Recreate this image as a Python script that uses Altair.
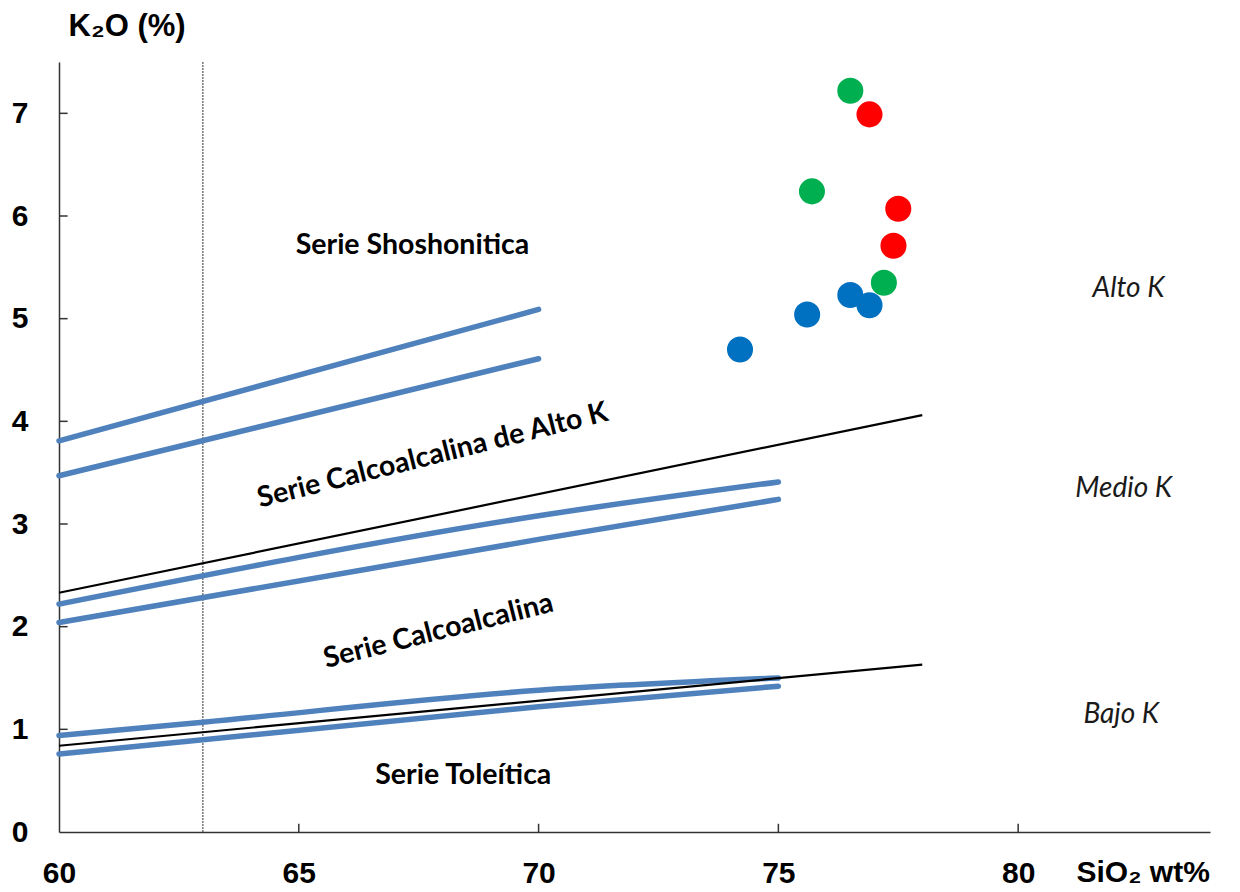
import altair as alt
import pandas as pd

# ---- data ----
# boundary lines (blue, thick)
line1_x = [60, 70];        line1_y = [3.81, 5.09]
line2_x = [60, 70];        line2_y = [3.47, 4.61]
line3_x = [60, 70, 75];    line3_y = [2.22, 3.08, 3.41]
line4_x = [60, 70, 75];    line4_y = [2.04, 2.85, 3.24]
line5_x = [60, 63, 70, 75]; line5_y = [0.94, 1.07, 1.38, 1.50]
line6_x = [60, 70, 75];    line6_y = [0.76, 1.22, 1.42]
# boundary lines (black, thin)
blackA_x = [60, 78];       blackA_y = [2.33, 4.06]
blackB_x = [60, 78];       blackB_y = [0.84, 1.63]
# vertical dotted line
vline_x = [63]

# samples
blue_x = [74.2, 75.6, 76.5, 76.9]
blue_y = [4.70, 5.04, 5.23, 5.13]
green_x = [76.5, 75.7, 77.2]
green_y = [7.22, 6.24, 5.35]
red_x = [76.9, 77.5, 77.4]
red_y = [6.99, 6.07, 5.71]

# field labels
series_labels = ["Serie Shoshonitica", "Serie Toleítica"]
series_x = [67.37, 68.43]
series_y = [5.72, 0.56]
rot_labels = ["Serie Calcoalcalina de Alto K", "Serie Calcoalcalina"]
rot_x = [67.79, 67.91]
rot_y = [3.67, 1.96]
k_labels = ["Alto K", "Medio K", "Bajo K"]
k_x = [82.3, 82.2, 82.15]
k_y = [5.29, 3.34, 1.14]

x_ticks = [60, 65, 70, 75, 80]
y_ticks = [0, 1, 2, 3, 4, 5, 6, 7]
inner_x_ticks = [65, 70, 75, 80]
inner_y_ticks = [1, 2, 3, 4, 5, 6, 7]

X_DOMAIN = [60, 84]
Y_DOMAIN = [0, 7.5]

# ---- tables ----
def lines_df(specs):
    rows = []
    for name, xs, ys in specs:
        for i, (a, b) in enumerate(zip(xs, ys)):
            rows.append({"line": name, "ord": i, "x": a, "y": b})
    return pd.DataFrame(rows)

blue_df = lines_df([("l1", line1_x, line1_y), ("l2", line2_x, line2_y),
                    ("l3", line3_x, line3_y), ("l4", line4_x, line4_y),
                    ("l5", line5_x, line5_y), ("l6", line6_x, line6_y)])
black_df = lines_df([("a", blackA_x, blackA_y), ("b", blackB_x, blackB_y)])

pts_df = pd.DataFrame(
    [{"x": a, "y": b, "grp": "azul"} for a, b in zip(blue_x, blue_y)]
    + [{"x": a, "y": b, "grp": "verde"} for a, b in zip(green_x, green_y)]
    + [{"x": a, "y": b, "grp": "rojo"} for a, b in zip(red_x, red_y)]
)

vline_df = pd.DataFrame({"x": vline_x, "y": [Y_DOMAIN[0]], "y2": [Y_DOMAIN[1]]})

xt_df = pd.DataFrame({"x": inner_x_ticks, "y": [0.0] * len(inner_x_ticks),
                      "y2": [0.08] * len(inner_x_ticks)})
yt_df = pd.DataFrame({"y": inner_y_ticks, "x": [60.0] * len(inner_y_ticks),
                      "x2": [60.18] * len(inner_y_ticks)})

ser_df = pd.DataFrame({"x": series_x, "y": series_y, "t": series_labels})
rot_df = pd.DataFrame({"x": rot_x, "y": rot_y, "t": rot_labels})
k_df = pd.DataFrame({"x": k_x, "y": k_y, "t": k_labels})

# ---- axes ----
x_axis = alt.Axis(values=x_ticks, grid=False, ticks=False, labelPadding=26,
                  labelFlush=False,
                  labelFont="Liberation Sans", labelFontWeight="bold",
                  labelFontSize=30, labelColor="black",
                  domainColor="#333333", domainWidth=1.5,
                  title="SiO₂  wt%", titleFont="Liberation Sans",
                  titleFontWeight="bold", titleFontSize=30, titleColor="black",
                  titleAlign="left", titleBaseline="alphabetic", titleAnchor="start",
                  titleX=1017, titleY=49)
y_axis = alt.Axis(values=y_ticks, grid=False, ticks=False, labelPadding=31,
                  labelFlush=False,
                  labelFont="Liberation Sans", labelFontWeight="bold",
                  labelFontSize=30, labelColor="black",
                  domainColor="#333333", domainWidth=1.5,
                  title="K₂O (%)", titleFont="Liberation Sans",
                  titleFontWeight="bold", titleFontSize=31, titleColor="black",
                  titleAngle=0, titleAlign="left", titleBaseline="alphabetic",
                  titleAnchor="start", titleX=9, titleY=-27)

X = alt.X("x:Q", scale=alt.Scale(domain=X_DOMAIN, nice=False, zero=False), axis=x_axis)
Y = alt.Y("y:Q", scale=alt.Scale(domain=Y_DOMAIN, nice=False), axis=y_axis)

vline = alt.Chart(vline_df).mark_rule(color="#333333", strokeWidth=1,
                                      strokeDash=[2, 1]).encode(x=X, y=Y, y2="y2:Q")

blue_lines = alt.Chart(blue_df).mark_line(color="#4F81BD", strokeWidth=5.5,
                                          strokeCap="round", interpolate="monotone").encode(
    x=X, y=Y, detail="line:N", order="ord:Q")
black_lines = alt.Chart(black_df).mark_line(color="black", strokeWidth=2.2).encode(
    x=X, y=Y, detail="line:N", order="ord:Q")

xticks = alt.Chart(xt_df).mark_rule(color="#333333", strokeWidth=1.5).encode(
    x=X, y=Y, y2="y2:Q")
yticks = alt.Chart(yt_df).mark_rule(color="#333333", strokeWidth=1.5).encode(
    x=X, x2="x2:Q", y=Y)

points = alt.Chart(pts_df).mark_circle(size=680, opacity=1).encode(
    x=X, y=Y,
    color=alt.Color("grp:N",
                    scale=alt.Scale(domain=["azul", "verde", "rojo"],
                                    range=["#0070C0", "#00B050", "#FF0000"]),
                    legend=None))

ser_text = alt.Chart(ser_df).mark_text(font="Lato", fontWeight="bold", fontSize=28.5,
                                       color="black", align="center",
                                       baseline="middle").encode(x=X, y=Y, text="t:N")
rot_text = alt.Chart(rot_df).mark_text(font="Lato", fontWeight="bold", fontSize=28.5,
                                       color="black", align="center", baseline="middle",
                                       angle=346).encode(x=X, y=Y, text="t:N")
k_text = alt.Chart(k_df).mark_text(font="Lato", fontStyle="italic", fontSize=28,
                                   color="#1a1a1a", align="center",
                                   baseline="middle").encode(x=X, y=Y, text="t:N")

chart = alt.layer(vline, blue_lines, black_lines, xticks, yticks, points,
                  ser_text, rot_text, k_text).properties(
    width=1151, height=770,
    autosize=alt.AutoSizeParams(type="none"),
    padding={"left": 51, "top": 54, "right": 20, "bottom": 60},
    background="white",
).configure_view(stroke=None)

chart.save("out.html", embed_options={"renderer": "svg", "actions": False})
